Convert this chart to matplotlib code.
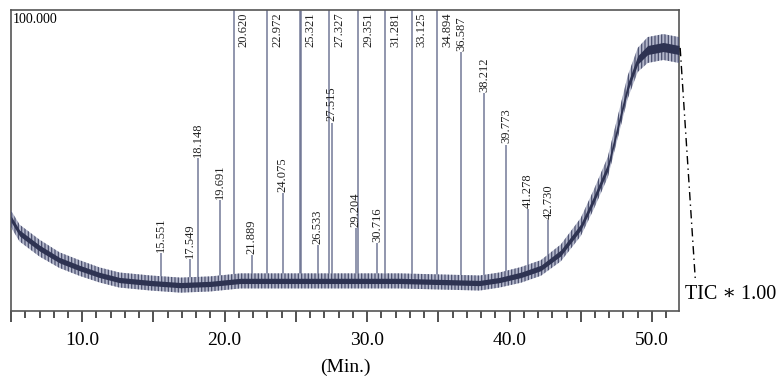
import numpy as np
import matplotlib
matplotlib.use("Agg")
import matplotlib.pyplot as plt
from matplotlib.ticker import MultipleLocator, FuncFormatter

# baseline (noisy TIC trace): time (min), centre, half width of the noise band
base_t = [5.0, 5.6, 7.0, 8.4, 9.8, 11.2, 12.6, 14.8, 16.9, 19.0, 21.1, 25.3, 32.3,
          37.9, 39.3, 40.8, 42.2, 43.6, 45.0, 45.9, 46.9, 47.6, 48.3, 49.0, 49.7, 50.8, 51.9]
base_v = [30.6, 25.9, 20.9, 16.9, 14.3, 12.0, 10.3, 9.3, 8.6, 9.0, 10.0, 10.0, 10.0,
          9.3, 10.3, 12.0, 14.3, 19.3, 27.9, 36.9, 47.8, 61.1, 74.4, 83.4, 86.7, 87.7, 86.7]
base_hw = [2.8, 2.8, 2.8, 2.6, 2.6, 2.5, 2.5, 2.5, 2.5, 2.5, 2.5, 2.5, 2.5,
           2.5, 2.5, 2.6, 2.6, 2.8, 3.0, 3.2, 3.4, 3.6, 3.8, 4.0, 4.3, 4.3, 4.3]

# labelled peaks: retention time and apex height (100 = off scale)
peak_t = [15.551, 17.549, 18.148, 19.691, 20.620, 21.889, 22.972, 24.075, 25.321,
          26.533, 27.327, 27.515, 29.204, 29.351, 30.716, 31.281, 33.125, 34.894,
          36.587, 38.212, 39.773, 41.278, 42.730]
peak_v = [19.3, 17.3, 50.8, 36.9, 100, 18.6, 100, 39.2, 100,
          21.8, 100, 62.5, 27.6, 100, 22.6, 100, 100, 100,
          86.0, 72.4, 55.3, 33.8, 30.2]

# leader line from the end of the trace to the TIC note
leader_t = [51.98, 53.05]
leader_v = [87.4, 10.0]

plt.rcParams['font.family'] = ['Liberation Serif', 'DejaVu Serif']
plt.rcParams['hatch.linewidth'] = 0.9

fig = plt.figure(figsize=(7.77, 3.81), dpi=100)
ax = fig.add_axes([0.0142, 0.1837, 0.8597, 0.7901])

bt = np.array(base_t)
bv = np.array(base_v)
bh = np.array(base_hw)

# peaks
foot = np.interp(peak_t, base_t, base_v)
for t, v, f in zip(peak_t, peak_v, foot):
    lw = 1.8 if abs(t - 25.321) < 0.01 else 1.1
    ax.vlines(t, f, v, color='#737997', lw=lw, zorder=2)
    lab = f"{t:.3f}"
    if v >= 100:
        ax.annotate(lab, (t, 100), xytext=(3.0, -1.5), textcoords='offset points',
                    rotation=90, ha='left', va='top', fontsize=9, color='#222222')
    else:
        ax.annotate(lab, (t, v), xytext=(0, 1), textcoords='offset points',
                    rotation=90, ha='center', va='bottom', fontsize=9, color='#222222')

# noisy baseline band
ax.fill_between(bt, bv - bh, bv + bh, facecolor='#b3b7cb', edgecolor='#4a4f6e',
                hatch='|||||', lw=0, zorder=3)
ax.fill_between(bt, bv - bh * 0.35, bv + bh * 0.35, color='#2e3352', lw=0, zorder=4)

ax.plot(leader_t, leader_v, color='black', lw=1.0, linestyle=(0, (6, 3, 1, 3)),
        clip_on=False, zorder=5)

ax.set_xlim(5.0, 51.9)
ax.set_ylim(0, 100)
ax.set_yticks([])

ax.xaxis.set_major_locator(MultipleLocator(5))
ax.xaxis.set_minor_locator(MultipleLocator(1))
ax.xaxis.set_major_formatter(FuncFormatter(lambda x, p: f"{x:.1f}" if round(x) % 10 == 0 else ""))
ax.tick_params(axis='x', which='major', length=8, width=1.1, direction='out',
               labelsize=14, pad=7, color='#222222')
ax.tick_params(axis='x', which='minor', length=5, width=1.1, direction='out', color='#222222')

for s in ax.spines.values():
    s.set_color('#555555')
    s.set_linewidth(1.2)

ax.set_xlabel('(Min.)', fontsize=14, labelpad=7)

ax.text(0.003, 0.967, '100.000', transform=ax.transAxes, fontsize=10, ha='left', va='center',
        bbox=dict(fc='white', ec='none', pad=1), zorder=6)

fig.text(0.8816, 0.2283, 'TIC \u2217 1.00', fontsize=14.5, ha='left', va='center')

fig.savefig('out.png', dpi=100)
